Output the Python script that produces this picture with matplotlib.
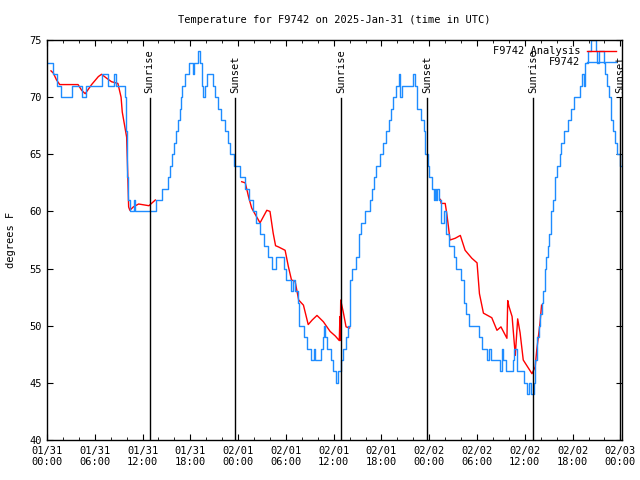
import matplotlib
matplotlib.use('Agg')
import matplotlib.pyplot as plt
import numpy as np

# hours since 2025-01-31 00:00 UTC
obs_hours = [0.0, 0.7, 1.2, 1.75, 3.2, 4.4, 4.9, 6.95, 7.7, 8.4, 8.7, 9.8, 9.95, 10.05, 10.2, 10.4,
             10.9, 11.1, 13.7, 14.5, 15.2, 15.5, 15.7, 15.95, 16.2, 16.45, 16.7, 16.85, 17.0, 17.3,
             17.8, 18.3, 18.5, 18.9, 19.2, 19.45, 19.6, 19.8, 20.1, 20.8, 21.1, 21.5, 21.8, 22.3,
             22.7, 23.0, 23.5, 24.2, 24.9, 25.4, 25.9, 26.3, 26.8, 27.3, 27.8, 28.3, 28.8, 29.8,
             30.0, 30.6, 30.9, 31.1, 31.5, 31.7, 32.3, 32.7, 33.2, 33.5, 33.7, 34.4, 34.6, 34.75,
             34.9, 35.2, 35.6, 35.9, 36.3, 36.6, 36.9, 37.15, 37.5, 37.8, 38.0, 38.1, 38.3, 38.8,
             39.2, 39.45, 39.9, 40.5, 40.8, 41.0, 41.3, 41.8, 42.2, 42.6, 43.0, 43.25, 43.5, 43.85,
             44.15, 44.35, 44.6, 45.9, 46.15, 46.4, 47.0, 47.3, 47.5, 47.8, 48.0, 48.3, 48.55, 48.7,
             48.85, 49.0, 49.2, 49.5, 49.8, 50.1, 50.5, 51.1, 51.4, 52.0, 52.3, 52.6, 53.0, 54.2,
             54.6, 55.3, 55.5, 55.7, 56.9, 57.1, 57.3, 57.6, 58.5, 58.7, 59.0, 59.9, 60.3, 60.5,
             60.8, 61.15, 61.3, 61.5, 61.8, 61.95, 62.1, 62.3, 62.5, 62.7, 62.9, 63.05, 63.3, 63.55,
             63.8, 64.0, 64.4, 64.6, 64.95, 65.4, 65.75, 66.2, 66.9, 67.15, 67.4, 67.55, 67.9, 68.3,
             68.9, 69.1, 69.35, 69.9, 70.1, 70.35, 70.6, 70.85, 71.1, 71.3, 71.6, 71.9, 72.15]
obs_temps = [73, 72, 71, 70, 71, 70, 71, 72, 71, 72, 71, 70, 67, 63, 61, 60,
             61, 60, 61, 62, 63, 64, 65, 66, 67, 68, 69, 70, 71, 72,
             73, 72, 73, 74, 73, 71, 70, 71, 72, 71, 70, 69, 68, 67,
             66, 65, 64, 63, 62, 61, 60, 59, 58, 57, 56, 55, 56, 55,
             54, 53, 54, 53, 52, 50, 49, 48, 47, 48, 47, 48, 49, 50,
             49, 48, 47, 46, 45, 46, 47, 48, 49, 50, 52, 54, 55, 56,
             58, 59, 60, 61, 62, 63, 64, 65, 66, 67, 68, 69, 70, 71,
             72, 70, 71, 72, 71, 69, 68, 67, 65, 64, 63, 62, 61, 62,
             61, 62, 61, 59, 60, 58, 57, 56, 55, 54, 52, 51, 50, 49,
             48, 47, 48, 47, 46, 48, 47, 46, 47, 48, 46, 45, 44, 45,
             44, 45, 47, 49, 50, 51, 52, 53, 55, 56, 57, 58, 60, 61,
             63, 64, 65, 66, 67, 68, 69, 70, 71, 72, 71, 73, 74, 75,
             74, 73, 74, 73, 72, 71, 70, 68, 67, 66, 65, 64, 64]

ana1_hours = [0.5, 0.8, 1.2, 1.6, 3.9, 4.35, 4.8, 5.6, 6.45, 6.85, 7.5, 8.1, 8.9, 9.3, 9.45, 9.7,
              10.0, 10.15, 10.25, 10.4, 10.85, 11.5, 12.8, 13.6]
ana1_temps = [72.3, 72.1, 71.5, 71.1, 71.1, 70.6, 70.3, 71.1, 71.8, 72.0, 71.65, 71.35, 71.2, 70.0,
              68.7, 67.7, 66.5, 63.0, 60.4, 60.1, 60.4, 60.65, 60.5, 61.0]
ana2_hours = [24.45, 24.9, 25.3, 25.7, 26.1, 26.55, 26.75, 27.6, 28.0, 28.4, 28.7, 29.05, 29.9,
              30.3, 30.7, 31.15, 31.6, 32.2, 32.8, 33.3, 33.9, 34.7, 35.55, 36.2, 36.7, 36.78,
              36.82, 36.88, 36.95, 37.2, 37.55, 38.0]
ana2_temps = [62.6, 62.5, 61.3, 60.3, 59.8, 59.25, 59.0, 60.1, 60.0, 58.1, 57.0, 56.9, 56.6,
              55.2, 54.0, 53.9, 52.25, 51.8, 50.1, 50.5, 50.9, 50.35, 49.5, 49.1, 48.7, 50.8,
              48.7, 52.25, 52.0, 51.2, 49.9, 49.8]
ana3_hours = [49.4, 49.5, 50.0, 50.2, 50.4, 50.6, 51.25, 51.9, 52.5, 53.35, 54.0, 54.3, 54.8,
              55.85, 56.5, 57.0, 57.75, 57.85, 58.0, 58.4, 58.8, 59.1, 59.4, 59.8, 60.9, 61.3,
              61.5, 61.9, 62.1]
ana3_temps = [61.05, 60.7, 60.7, 59.8, 58.7, 57.5, 57.65, 57.9, 56.6, 55.9, 55.5, 52.8, 51.1,
              50.7, 49.6, 49.9, 48.9, 52.2, 51.7, 50.8, 47.4, 50.6, 49.4, 47.0, 45.8, 46.4,
              47.9, 50.2, 51.8]

sun_hours = [12.9, 23.6, 36.9, 47.7, 61.0, 71.95]
sun_labels = ['Sunrise', 'Sunset', 'Sunrise', 'Sunset', 'Sunrise', 'Sunset']

tick_hours = list(range(0, 73, 6))
tick_labels = ['01/31\n00:00', '01/31\n06:00', '01/31\n12:00', '01/31\n18:00',
               '02/01\n00:00', '02/01\n06:00', '02/01\n12:00', '02/01\n18:00',
               '02/02\n00:00', '02/02\n06:00', '02/02\n12:00', '02/02\n18:00',
               '02/03\n00:00']

plt.rcParams['font.family'] = 'DejaVu Sans Mono'
plt.rcParams['font.size'] = 7

fig = plt.figure(figsize=(6.4, 4.8), dpi=100)
ax = fig.add_axes([47 / 640, 40 / 480, 575 / 640, 400 / 480])

red_h = ana1_hours + [np.nan] + ana2_hours + [np.nan] + ana3_hours
red_t = ana1_temps + [np.nan] + ana2_temps + [np.nan] + ana3_temps
ax.plot(red_h, red_t, color='red', lw=1.0, label='F9742 Analysis')
ax.plot(obs_hours, obs_temps, color='#1e8cff', lw=1.0, drawstyle='steps-post', label='F9742')

for h, lab in zip(sun_hours, sun_labels):
    ax.plot([h, h], [40, 69.9], color='black', lw=1.0)
    ax.text(h, 70.4, lab, rotation=90, ha='center', va='bottom', fontsize=7.5, clip_on=False)

ax.set_xlim(0, 72.2)
ax.set_ylim(40, 75)
ax.set_xticks(tick_hours)
ax.set_xticklabels(tick_labels)
ax.set_xticks(np.arange(0, 72.2, 2), minor=True)
ax.set_yticks(range(40, 76, 5))
ax.tick_params(which='both', direction='in', top=True, right=True, labelsize=7.5)
ax.tick_params(which='major', length=4, pad=4)
ax.tick_params(which='minor', length=2.5)
for s in ax.spines.values():
    s.set_linewidth(1.0)

ax.set_title('Temperature for F9742 on 2025-Jan-31 (time in UTC)', fontsize=7.5, pad=12)
ax.set_ylabel('degrees F', fontsize=7.5, labelpad=9)

ax.legend(loc='upper right', frameon=False, markerfirst=False, fontsize=7.5,
          handlelength=2.8, borderaxespad=0.5, borderpad=0.1, labelspacing=0.1,
          handletextpad=0.6)

fig.savefig('out.png', dpi=100)
